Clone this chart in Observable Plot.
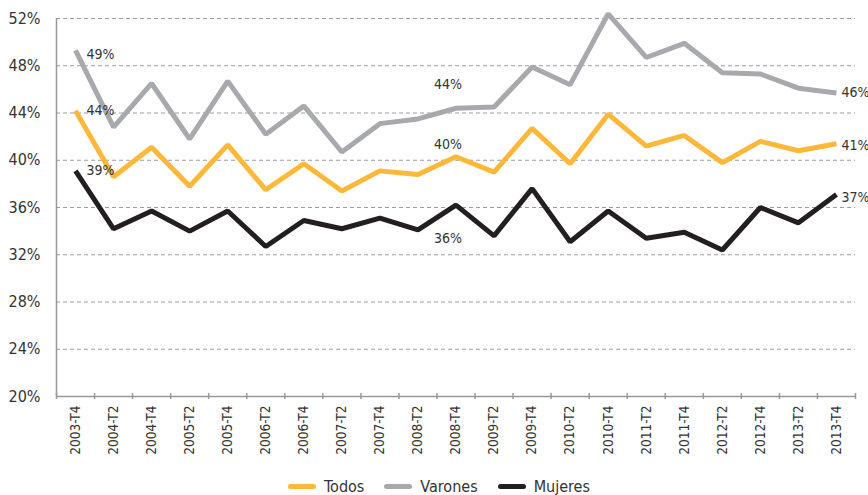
<!DOCTYPE html>
<html>
<head>
<meta charset="utf-8">
<script src="https://cdn.jsdelivr.net/npm/d3@7"></script>
<script src="https://cdn.jsdelivr.net/npm/@observablehq/plot@0.6"></script>
<style>
  html, body { margin: 0; padding: 0; background: #fff; }
  body { width: 868px; height: 495px; overflow: hidden; font-family: "DejaVu Sans Condensed", "Liberation Sans Narrow", sans-serif; font-stretch: condensed; }
  #legend { display: flex; justify-content: center; align-items: center; height: 17px; padding-top: 6px; font-size: 16px; color: #333; padding-left: 10px; }
  .item { display: flex; align-items: center; margin: 0 10px; }
  .sw { width: 28px; height: 5px; border-radius: 3px; margin-right: 8px; }
</style>
</head>
<body>
<div id="chart"></div>
<div id="legend"></div>
<script>
const periods = ["2003-T4","2004-T2","2004-T4","2005-T2","2005-T4","2006-T2","2006-T4","2007-T2","2007-T4","2008-T2","2008-T4","2009-T2","2009-T4","2010-T2","2010-T4","2011-T2","2011-T4","2012-T2","2012-T4","2013-T2","2013-T4"];
const todos   = [44.2,38.6,41.1,37.8,41.3,37.5,39.7,37.4,39.1,38.8,40.3,39.0,42.7,39.7,43.9,41.2,42.1,39.8,41.6,40.8,41.4];
const varones = [49.3,42.8,46.5,41.8,46.7,42.2,44.6,40.7,43.1,43.5,44.4,44.5,47.9,46.4,52.4,48.7,49.9,47.4,47.3,46.1,45.7];
const mujeres = [39.1,34.2,35.7,34.0,35.7,32.7,34.9,34.2,35.1,34.1,36.2,33.6,37.6,33.1,35.7,33.4,33.9,32.4,36.0,34.7,37.1];
const seriesNames = ["Todos","Varones","Mujeres"];
const seriesColors = ["#FDB83A","#A7A9AC","#231F20"];
const yTicks = [20,24,28,32,36,40,44,48,52];

const seriesValues = {Todos: todos, Varones: varones, Mujeres: mujeres};
const data = seriesNames.flatMap(s => periods.map((p, i) => ({series: s, period: p, i, value: seriesValues[s][i]})));
const fmt = d => Math.round(d.value) + "%";
const xDomain = [-0.5, periods.length - 0.5];
const pick = (s, p) => data.filter(d => d.series === s && d.period === p);

const font = '"DejaVu Sans Condensed", "Liberation Sans Narrow", sans-serif';
const first = periods[0], mid = "2008-T4", last = periods[periods.length - 1];
const lab = (s, p, o) => Plot.text(pick(s, p), {x: "i", y: "value", text: fmt, fill: "#333", fontSize: 14, style: "letter-spacing:-0.4px", ...o});

const chart = Plot.plot({
  width: 868, height: 472,
  marginTop: 18, marginBottom: 76, marginLeft: 56, marginRight: 13,
  style: {fontFamily: font, background: "white", color: "#333"},
  x: {domain: xDomain, axis: null, label: null},
  y: {domain: [yTicks[0], yTicks[yTicks.length - 1]], axis: null, label: null},
  color: {domain: seriesNames, range: seriesColors},
  marks: [
    Plot.ruleY(yTicks.slice(1), {stroke: "#9d9d9d", strokeDasharray: "4,3", strokeWidth: 1}),
    Plot.ruleX([xDomain[0]], {stroke: "#999", strokeWidth: 1.5}),
    Plot.ruleY([yTicks[0]], {stroke: "#999", strokeWidth: 1.5}),
    Plot.axisY({ticks: yTicks, tickFormat: d => d + "%", tickSize: 0, tickPadding: 16, fontSize: 16, fill: "#333", label: null}),
    Plot.axisX({ticks: d3.range(periods.length), tickFormat: i => periods[i], tickSize: 0, tickPadding: 9, tickRotate: -90, fontSize: 13.5, fill: "#333", label: null}),
    Plot.axisX({ticks: d3.range(periods.length + 1).map(i => i - 0.5), tickFormat: () => "", tickSize: 6, dy: -3, stroke: "#999", strokeWidth: 1.5, label: null}),
    Plot.line(data, {x: "i", y: "value", z: "series", stroke: "series", strokeWidth: 5, strokeLinejoin: "miter", strokeLinecap: "butt"}),
    lab("Varones", first, {textAnchor: "start", dx: 11, dy: 4}),
    lab("Todos", first, {textAnchor: "start", dx: 11}),
    lab("Mujeres", first, {textAnchor: "start", dx: 11}),
    lab("Varones", mid, {dx: -8, dy: -24}),
    lab("Todos", mid, {dx: -8, dy: -12}),
    lab("Mujeres", mid, {dx: -8, dy: 33}),
    lab("Varones", last, {textAnchor: "start", dx: 5}),
    lab("Todos", last, {textAnchor: "start", dx: 5, dy: 2}),
    lab("Mujeres", last, {textAnchor: "start", dx: 5, dy: 3})
  ]
});
document.getElementById("chart").appendChild(chart);

const legend = document.getElementById("legend");
seriesNames.forEach((s, k) => {
  const item = document.createElement("div");
  item.className = "item";
  const sw = document.createElement("span");
  sw.className = "sw";
  sw.style.background = seriesColors[k];
  const t = document.createElement("span");
  t.textContent = s;
  item.appendChild(sw); item.appendChild(t);
  legend.appendChild(item);
});
</script>
</body>
</html>
